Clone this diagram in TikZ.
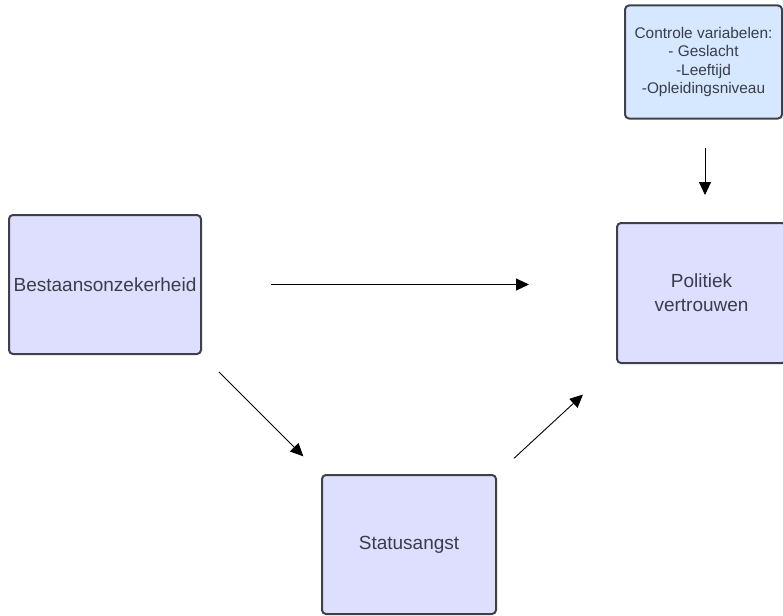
\documentclass[tikz,border=0pt]{standalone}
\usepackage{fontspec}
\setmainfont{Liberation Sans}
\usetikzlibrary{arrows.meta}
\definecolor{boxfill}{RGB}{222,222,255}
\definecolor{ctrlfill}{RGB}{213,232,255}
\definecolor{boxline}{RGB}{62,65,74}
\definecolor{boxtext}{RGB}{58,61,74}

\begin{document}
\begin{tikzpicture}[x=1pt,y=-1pt,
    factor/.style={draw=boxline,line width=2pt,rounded corners=4pt,fill=boxfill,
        text=boxtext,align=center,font=\fontsize{19}{24}\selectfont,inner sep=0pt},
    link/.style={line width=0.9pt,-{Triangle[length=13pt,width=12pt]}}]
    \useasboundingbox (0,0) rectangle (783,615);

    % factoren
    \node[factor,minimum width=192pt,minimum height=139pt] (bestaan) at (105,284.5) {Bestaansonzekerheid};
    \node[factor,minimum width=169pt,minimum height=140pt] (politiek) at (701.5,293) {Politiek\\vertrouwen};
    \node[factor,minimum width=174pt,minimum height=139pt] (status) at (409,544.5) {Statusangst};
    \node[factor,fill=ctrlfill,minimum width=157pt,minimum height=113pt,
        font=\fontsize{15.4}{18.3}\selectfont] (controle) at (703.5,62) {Controle variabelen:\\- Geslacht\\-Leeftijd\\-Opleidingsniveau};

    % pijlen
    \draw[link,shorten <=69pt,shorten >=87pt] (bestaan.east) -- (bestaan.east -| politiek.west);
    \draw[link,shorten <=24pt,shorten >=25pt] (bestaan.south east) -- (status.north west);
    \draw[link,shorten <=23pt,shorten >=45pt] (status.north east) -- (politiek.south west);
    \draw[link,shorten <=28pt,shorten >=27pt] ([xshift=1.5pt]controle.south) -- ([xshift=1.5pt]controle.south |- politiek.north);
\end{tikzpicture}
\end{document}
